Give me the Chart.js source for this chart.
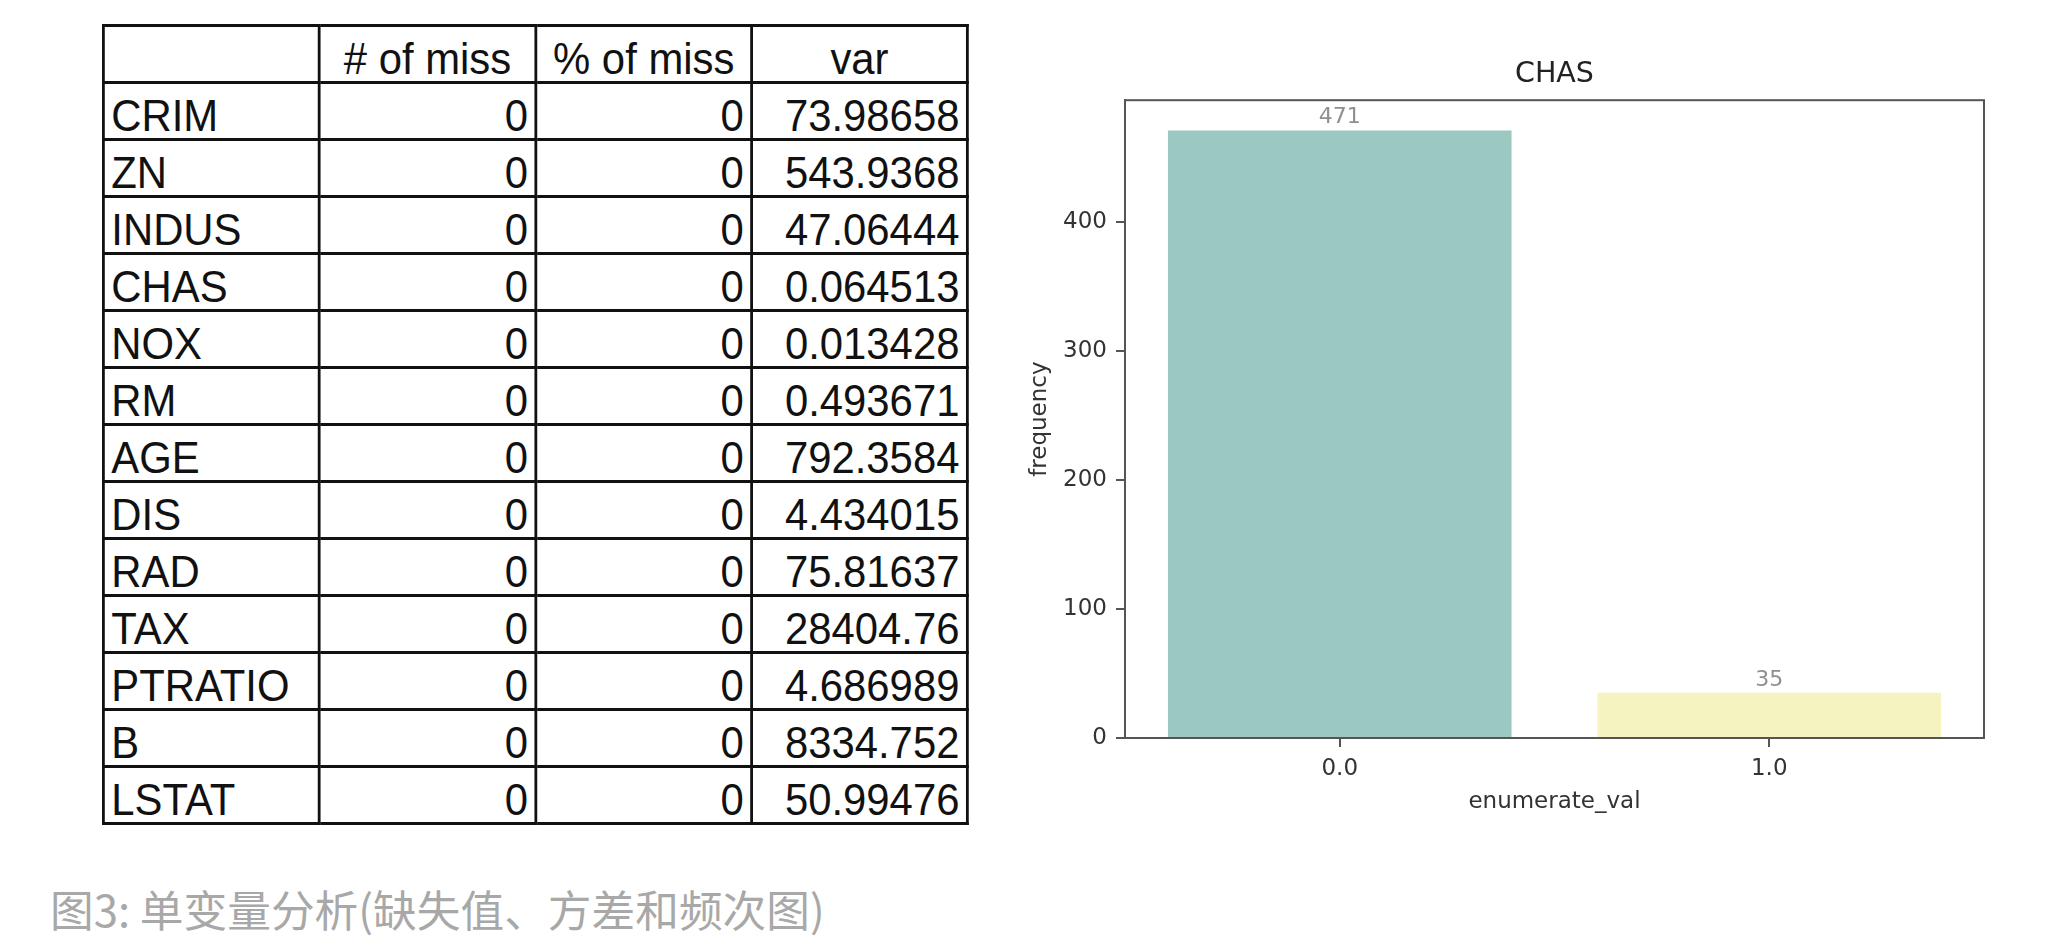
<!DOCTYPE html>
<html>
<head>
<meta charset="utf-8">
<script src="https://cdn.jsdelivr.net/npm/chart.js@4.4.1/dist/chart.umd.min.js"></script>
<style>
  html, body { margin: 0; padding: 0; background: #fff; }
  body { width: 2048px; height: 946px; position: relative; overflow: hidden; }
  #tbl {
    position: absolute; left: 102px; top: 24px; width: 929px;
    border-collapse: collapse; table-layout: fixed;
    transform: scaleX(0.93); transform-origin: 0 0;
    font-family: "Liberation Sans", Arial, sans-serif; font-size: 45px; color: #111;
  }
  #tbl td {
    border: 3px solid #111; height: 54px; padding: 0 7px 0 7px;
    vertical-align: bottom; line-height: 1; white-space: nowrap; overflow: hidden;
  }
  #tbl td.num { text-align: right; }
  #tbl tr.head td { text-align: center; }
  #cap {
    position: absolute; left: 50px; top: 876px;
    font-family: "Noto Sans CJK SC", sans-serif; font-size: 43.7px; color: #a8a8a8;
    white-space: nowrap;
  }
  #chart { position: absolute; left: 1000px; top: 0; }
</style>
</head>
<body>
<table id="tbl">
  <colgroup><col style="width:232px"><col style="width:233px"><col style="width:232px"><col style="width:232px"></colgroup>
  <tbody></tbody>
</table>
<div id="cap">图3: 单变量分析(缺失值、方差和频次图)</div>
<canvas id="chart" width="1048" height="946"></canvas>
<script>
// tabela: variáveis, faltantes e variância
const headers = ["", "# of miss", "% of miss", "var"];
const variables = ["CRIM", "ZN", "INDUS", "CHAS", "NOX", "RM", "AGE", "DIS", "RAD", "TAX", "PTRATIO", "B", "LSTAT"];
const missCount = [0, 0, 0, 0, 0, 0, 0, 0, 0, 0, 0, 0, 0];
const missPct = [0, 0, 0, 0, 0, 0, 0, 0, 0, 0, 0, 0, 0];
const variance = ["73.98658", "543.9368", "47.06444", "0.064513", "0.013428", "0.493671", "792.3584",
  "4.434015", "75.81637", "28404.76", "4.686989", "8334.752", "50.99476"];

// gráfico de frequência do CHAS
const chasLabels = ["0.0", "1.0"];
const chasFreq = [471, 35];
const barColors = ["#9bc9c2", "#f5f4c0"];
const yTicks = [0, 100, 200, 300, 400];
const yMax = 494.55;

function buildTable() {
    let body = document.querySelector("#tbl tbody");
    let html = '<tr class="head">';
    headers.forEach(h => {
        html += `<td>${h}</td>`;
    });
    html += '</tr>';
    variables.forEach((v, i) => {
        html += `<tr><td>${v}</td><td class="num">${missCount[i]}</td>` +
            `<td class="num">${missPct[i]}</td><td class="num">${variance[i]}</td></tr>`;
    });
    body.innerHTML = html;
}

// moldura completa do eixo, como no matplotlib
const framePlugin = {
    id: "frame",
    afterDraw(chart) {
        const a = chart.chartArea;
        const ctx = chart.ctx;
        ctx.save();
        ctx.strokeStyle = "#555";
        ctx.lineWidth = 2;
        ctx.strokeRect(a.left, a.top, a.right - a.left, a.bottom - a.top);
        ctx.restore();
    }
};

// rótulos de valor acima das barras
const valuePlugin = {
    id: "values",
    afterDatasetsDraw(chart) {
        const ctx = chart.ctx;
        const meta = chart.getDatasetMeta(0);
        ctx.save();
        ctx.font = '22px "DejaVu Sans"';
        ctx.fillStyle = "#8f8f8f";
        ctx.textAlign = "center";
        ctx.textBaseline = "middle";
        meta.data.forEach((bar, i) => {
            ctx.fillText(String(chasFreq[i]), bar.x, bar.y - 13);
        });
        ctx.restore();
    }
};

function createChart() {
    const tickFont = { family: "DejaVu Sans", size: 23 };
    new Chart(document.getElementById("chart"), {
        type: "bar",
        data: {
            labels: chasLabels,
            datasets: [{
                data: chasFreq,
                backgroundColor: barColors,
                barPercentage: 0.8,
                categoryPercentage: 1.0
            }]
        },
        options: {
            responsive: false,
            animation: false,
            devicePixelRatio: 1,
            layout: { padding: { left: 0, right: 64, top: 0, bottom: 98 } },
            plugins: {
                legend: { display: false },
                tooltip: { enabled: false },
                title: {
                    display: true,
                    text: "CHAS",
                    fullSize: false,
                    color: "#222",
                    font: { family: "DejaVu Sans", size: 28.5, weight: "normal" },
                    padding: { top: 57, bottom: 9 }
                }
            },
            scales: {
                x: {
                    offset: true,
                    grid: { display: true, offset: false, drawOnChartArea: false, drawTicks: true, tickLength: 9, color: "#555", lineWidth: 2 },
                    border: { display: true, color: "#555", width: 2 },
                    ticks: { color: "#333", font: tickFont, padding: 8 },
                    title: {
                        display: true, text: "enumerate_val", color: "#333", font: tickFont,
                        padding: { top: 0, bottom: 32 }
                    },
                    afterFit(scale) { scale.height = 110; }
                },
                y: {
                    min: 0,
                    max: yMax,
                    grid: { display: true, drawOnChartArea: false, drawTicks: true, tickLength: 9, color: "#555", lineWidth: 2 },
                    border: { display: true, color: "#555", width: 2 },
                    afterBuildTicks(scale) { scale.ticks = yTicks.map(v => ({ value: v })); },
                    ticks: { color: "#333", font: tickFont, padding: 9, includeBounds: false },
                    title: {
                        display: true, text: "frequency", color: "#333", font: tickFont,
                        padding: { top: 26, bottom: 0 }
                    },
                    afterFit(scale) { scale.width = 125; }
                }
            }
        },
        plugins: [framePlugin, valuePlugin]
    });
}

buildTable();
createChart();
</script>
</body>
</html>
